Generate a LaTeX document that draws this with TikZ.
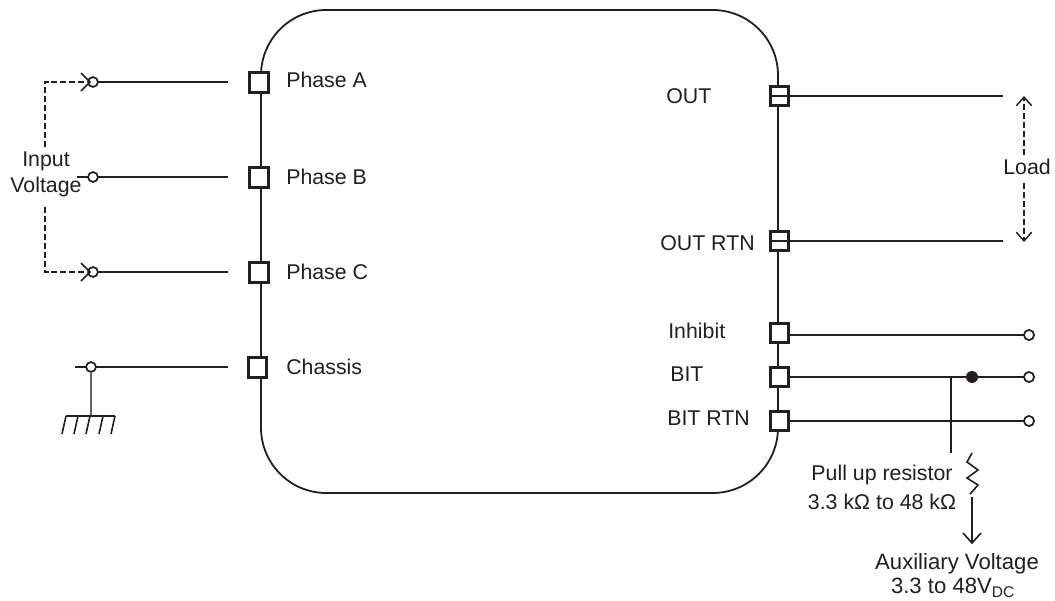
\documentclass[tikz,border=0pt]{standalone}
\usepackage{fontspec}
\setmainfont{Liberation Sans}
\usetikzlibrary{arrows.meta}
\definecolor{ink}{HTML}{231F20}
\tikzset{
  x=0.75pt,y=-0.75pt,
  wire/.style={draw=ink,line width=1.6pt},
  thin wire/.style={draw=ink,line width=1.4pt},
  fine/.style={draw=ink,line width=1.2pt},
  dash wire/.style={draw=ink,line width=1.0pt,dash pattern=on 4.5pt off 2.2pt},
  pin/.style={draw=ink,fill=white,line width=2.2pt,minimum width=13.6pt,minimum height=14.8pt,inner sep=0pt,outer sep=0pt},
  term/.style={circle,draw=ink,fill=white,line width=1.3pt,minimum size=7.6pt,inner sep=0pt,outer sep=0pt},
  src/.style={circle,draw=ink,line width=1.3pt,minimum size=7.4pt,inner sep=0pt,outer sep=0pt},
  lbl/.style={font=\fontsize{16pt}{20pt}\selectfont,text=ink,inner sep=0pt,align=center},
  big/.style={font=\fontsize{16.6pt}{19.5pt}\selectfont,text=ink,inner sep=0pt,align=center},
  openhead/.style={-{Straight Barb[length=6.5pt,width=11.5pt,line width=1.1pt]}},
}
\begin{document}
\begin{tikzpicture}
\useasboundingbox (0,0) rectangle (1055,600);
\fill[white] (0,0) rectangle (1055,600);
% body
\draw[draw=ink,line width=1.35pt,rounded corners=49pt] (261,10) rectangle (778,493);
% pins
\node[pin] (pa) at (259,82.5) {};
\node[pin] (pb) at (259,177.5) {};
\node[pin] (pc) at (259,272.5) {};
\node[pin] (pch) at (257.5,367.5) {};
\node[pin] (out) at (779.5,96) {};
\node[pin] (ortn) at (779.5,241) {};
\node[pin] (inh) at (779.5,333) {};
\node[pin] (bit) at (779.5,377) {};
\node[pin] (brtn) at (779.5,421) {};
% free wire ends on the left
\coordinate (wa) at (228,82);
\coordinate (wb) at (228,177);
\coordinate (wc) at (228,272);
\coordinate (wch) at (228,367);
\node[src] (sa) at (93,82) {};
\node[src] (sb) at (93,177) {};
\node[src] (sc) at (93,272) {};
\node[src] (sch) at (91,367) {};
\coordinate (tb) at (77,177);
\coordinate (tch) at (75,367);
\draw[wire] (tb) -- (sb.west);
\draw[wire] (sa.east) -- (wa);
\draw[wire] (sb.east) -- (wb);
\draw[wire] (sc.east) -- (wc);
\draw[wire] (tch) -- (sch.west);
\draw[wire] (sch.east) -- (wch);
% dashed input voltage
\node[lbl] (iv) at (46,174.5) {Input\\Voltage};
\coordinate (da) at (45,82);
\coordinate (dc) at (45,272);
\coordinate (da2) at (45,147);
\coordinate (dc2) at (45,207);
\draw[dash wire] (da2) -- (da) -- (84,82);
\draw[dash wire] (dc2) -- (dc) -- (84,272);
\draw[fine] (81,73) -- (90,82) -- (81,91);
\draw[fine] (81,263) -- (90,272) -- (81,281);
% ground
\coordinate (g) at (91,416);
\draw[draw=ink!70,line width=1.2pt] (sch.south) -- (g);
\draw[fine] (66,416) -- (115,416);
\foreach \x in {66,78,90,103,115}{
  \draw[fine] (\x,416) -- (\x-4,434);
}
% right wires
\coordinate (eo) at (1003,96);
\coordinate (er) at (1003,241);
\node[term] (ti) at (1029,335) {};
\node[term] (tb2) at (1029,377) {};
\node[term] (tr) at (1029,421) {};
\draw[thin wire] (out.west) -- (eo);
\draw[thin wire] (ortn.west) -- (er);
\draw[wire] (inh.east |- ti) -- (ti);
\draw[wire] (bit.east) -- (tb2);
\draw[wire] (brtn.east) -- (tr);
% load
\node[lbl] (ld) at (1027,167) {Load};
\coordinate (lt) at (1024,96);
\coordinate (lb) at (1024,242);
\draw[dash wire,openhead] (1024,155) -- (lt);
\draw[dash wire,openhead] (1024,183) -- (lb);
% pull up
\node[circle,fill=ink,minimum size=9pt,inner sep=0pt] (dot) at (972,377) {};
\coordinate (ph) at (951,377);
\coordinate (pe) at (951,453);
\draw[fine] (ph) -- (pe);
\coordinate (r1) at (972,453);
\coordinate (r2) at (972,497);
\coordinate (ah) at (972,543);
\draw[fine] (r1) -- (967,462) -- (978,470) -- (967,478) -- (978,485) -- (970,494);
\draw[fine] (r2) -- (ah);
\draw[fine] (963,533) -- (ah) -- (981,533);
% labels
\node[lbl,anchor=west] at (286,80) {Phase A};
\node[lbl,anchor=west] at (286,177) {Phase B};
\node[lbl,anchor=west] at (286,272) {Phase C};
\node[lbl,anchor=west] at (286,367) {Chassis};
\node[lbl,anchor=west] at (666,96) {OUT};
\node[lbl,anchor=west] at (660,243) {OUT RTN};
\node[lbl,anchor=west] at (668,331) {Inhibit};
\node[lbl,anchor=west] at (670,374) {BIT};
\node[lbl,anchor=west] at (667,418) {BIT RTN};
\node[lbl] at (882,475) {Pull up resistor};
\node[lbl] at (882,502) {3.3 kΩ to 48 kΩ};
\node[big] at (957,564) {Auxiliary Voltage};
\node[big] at (953,588) {3.3 to 48V\textsubscript{DC}};
\end{tikzpicture}
\end{document}
